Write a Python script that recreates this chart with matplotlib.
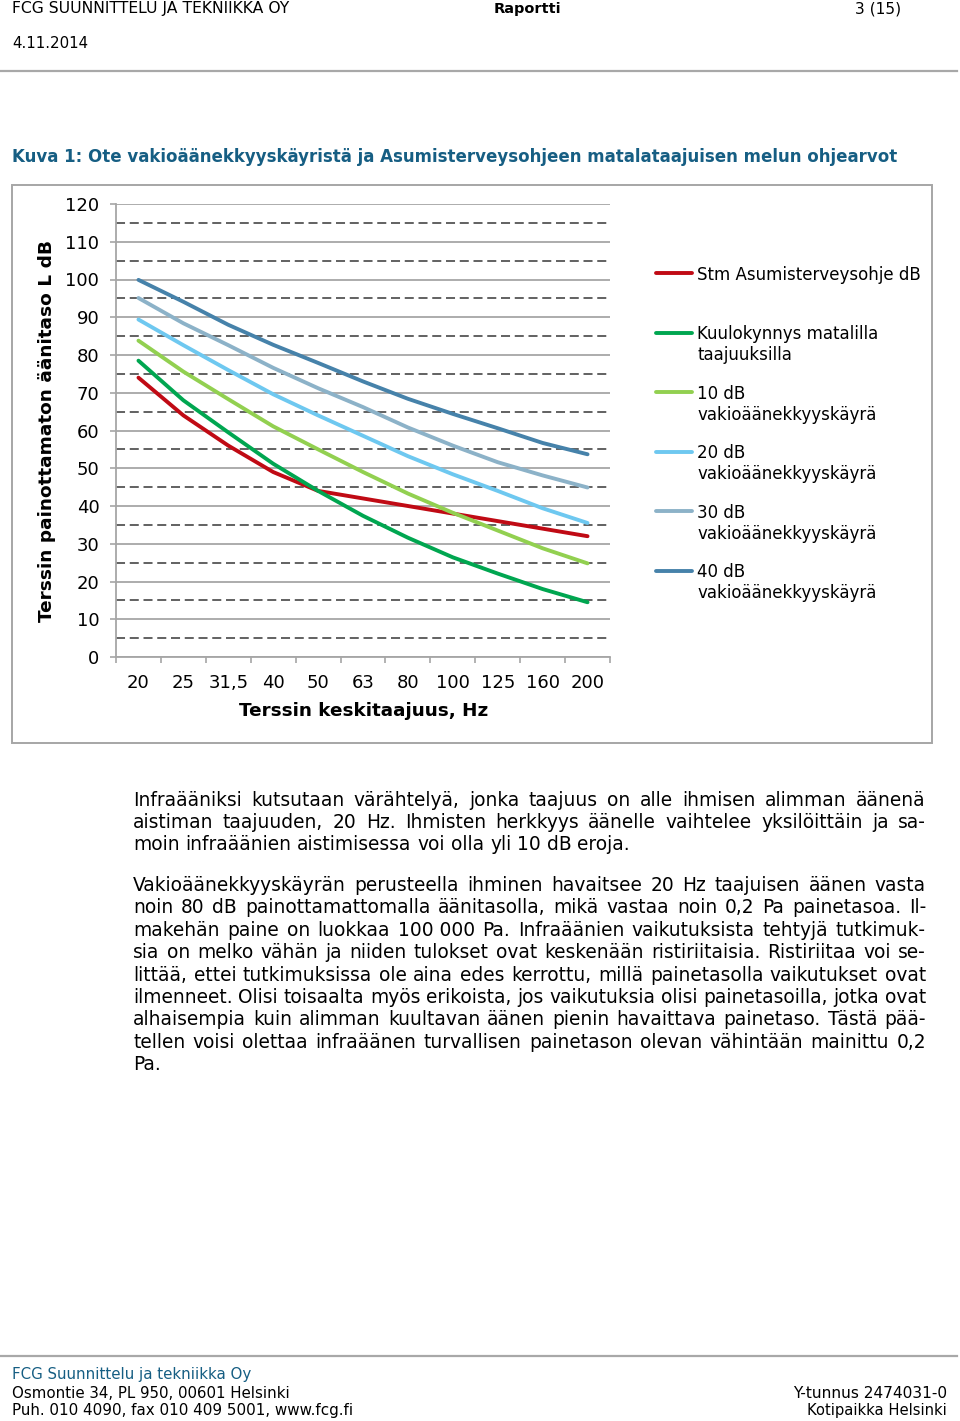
import matplotlib
matplotlib.use("Agg")
import matplotlib.pyplot as plt
from matplotlib.lines import Line2D
from matplotlib.patches import Rectangle
from matplotlib.ticker import FixedLocator

plt.rcParams['font.family'] = ['DejaVu Sans']
plt.rcParams['lines.scale_dashes'] = False

W, H = 960, 1421

# ---------------- data ----------------
freq_labels = ["20", "25", "31,5", "40", "50", "63", "80", "100", "125", "160", "200"]
stm_guideline = [74, 64, 56, 49, 44, 42, 40, 38, 36, 34, 32]
hearing_threshold = [78.5, 68.0, 59.5, 51.2, 44.0, 37.4, 31.6, 26.4, 22.1, 18.0, 14.5]
phon10 = [83.8, 75.6, 68.3, 61.1, 55.0, 49.0, 43.3, 38.2, 33.5, 28.8, 24.8]
phon20 = [89.4, 82.6, 76.0, 69.6, 64.0, 58.6, 53.2, 48.4, 44.0, 39.4, 35.5]
phon30 = [95.1, 88.4, 82.6, 76.6, 71.2, 66.2, 60.8, 56.0, 51.6, 48.1, 44.9]
phon40 = [99.9, 94.1, 88.0, 82.7, 77.9, 73.0, 68.4, 64.4, 60.6, 56.7, 53.7]

series_values = [stm_guideline, hearing_threshold, phon10, phon20, phon30, phon40]
series_labels = ["Stm Asumisterveysohje dB\n",
                 "Kuulokynnys matalilla\ntaajuuksilla",
                 "10 dB\nvakioäänekkyyskäyrä",
                 "20 dB\nvakioäänekkyyskäyrä",
                 "30 dB\nvakioäänekkyyskäyrä",
                 "40 dB\nvakioäänekkyyskäyrä"]
series_colors = ["#C00A14", "#00A650", "#92D050", "#6EC8F0", "#8CB2C8", "#4682AA"]

y_major = list(range(0, 121, 10))
y_minor = list(range(5, 120, 10))

para1 = ["Infraääniksi kutsutaan värähtelyä, jonka taajuus on alle ihmisen alimman äänenä",
         "aistiman taajuuden, 20 Hz. Ihmisten herkkyys äänelle vaihtelee yksilöittäin ja sa-",
         "moin infraäänien aistimisessa voi olla yli 10 dB eroja."]
para2 = ["Vakioäänekkyyskäyrän perusteella ihminen havaitsee 20 Hz taajuisen äänen vasta",
         "noin 80 dB painottamattomalla äänitasolla, mikä vastaa noin 0,2 Pa painetasoa. Il-",
         "makehän paine on luokkaa 100\u00a0000 Pa. Infraäänien vaikutuksista tehtyjä tutkimuk-",
         "sia on melko vähän ja niiden tulokset ovat keskenään ristiriitaisia. Ristiriitaa voi se-",
         "littää, ettei tutkimuksissa ole aina edes kerrottu, millä painetasolla vaikutukset ovat",
         "ilmenneet. Olisi toisaalta myös erikoista, jos vaikutuksia olisi painetasoilla, jotka ovat",
         "alhaisempia kuin alimman kuultavan äänen pienin havaittava painetaso. Tästä pää-",
         "tellen voisi olettaa infraäänen turvallisen painetason olevan vähintään mainittu 0,2",
         "Pa."]

# ---------------- figure ----------------
fig = plt.figure(figsize=(W / 100, H / 100), dpi=100)
fig.patch.set_facecolor("white")
renderer = fig.canvas.get_renderer()


def fx(px):
    return px / W


def fy(py):
    return 1 - py / H


def text_width(s, fs, **kw):
    t = fig.text(0, 0, s, fontsize=fs, **kw)
    w = t.get_window_extent(renderer).width
    t.remove()
    return w


def fit_text(x, y, s, width, fs_guess=11, **kw):
    t = fig.text(fx(x), fy(y), s, fontsize=fs_guess, **kw)
    w = t.get_window_extent(renderer).width
    t.set_fontsize(fs_guess * width / w)
    return t


# header
fit_text(12, 9, "FCG SUUNNITTELU JA TEKNIIKKA OY", 279, va="center", ha="left")
fit_text(561, 9, "Raportti", 67, va="center", ha="right", fontweight="bold")
fit_text(901, 9, "3 (15)", 46, va="center", ha="right")
fit_text(12, 44, "4.11.2014", 76, va="center", ha="left")
fig.add_artist(Line2D([0, fx(957)], [fy(71), fy(71)], color="#A8A8A8", lw=1.6))

caption_color = "#165E83"
fit_text(12, 157, "Kuva 1: Ote vakioäänekkyyskäyristä ja Asumisterveysohjeen matalataajuisen melun ohjearvot",
         885, va="center", ha="left", fontweight="bold", color=caption_color)

# chart border
fig.add_artist(Rectangle((fx(12), fy(743)), fx(920), 558 / H, transform=fig.transFigure,
                         fill=False, edgecolor="#A6A6A6", lw=1.4))

# axes
ax = fig.add_axes([fx(116), fy(657), fx(610) - fx(116), fy(204) - fy(657)])
x = list(range(len(freq_labels)))
for vals, lab, col in zip(series_values, series_labels, series_colors):
    ax.plot(x, vals, color=col, lw=2.8, label=lab, solid_joinstyle="round",
            solid_capstyle="round", zorder=3)

ax.set_xlim(-0.5, len(freq_labels) - 0.5)
ax.set_ylim(0, 120)
ax.set_yticks(y_major)
ax.yaxis.set_minor_locator(FixedLocator(y_minor))
ax.set_xticks(x)
ax.set_xticklabels(freq_labels)
ax.xaxis.set_minor_locator(FixedLocator([i - 0.5 for i in range(len(freq_labels) + 1)]))

ax.grid(axis="y", which="major", color="#A6A6A6", lw=1.3, zorder=1)
ax.grid(axis="y", which="minor", color="#555555", lw=1.3, linestyle=(0, (6.5, 3.4)), zorder=1)
ax.set_axisbelow(True)

for s in ["top", "right"]:
    ax.spines[s].set_visible(False)
for s in ["left", "bottom"]:
    ax.spines[s].set_color("#A6A6A6")
    ax.spines[s].set_linewidth(1.3)

ax.tick_params(axis="y", which="major", length=4.5, width=1.2, color="#A6A6A6",
               labelsize=13, pad=7.5, direction="out")
ax.tick_params(axis="y", which="minor", length=0)
ax.tick_params(axis="x", which="major", length=0, labelsize=13, pad=12.5)
ax.tick_params(axis="x", which="minor", length=4.5, width=1.2, color="#A6A6A6", direction="out")

ax.set_ylabel("Terssin painottamaton äänitaso L dB", fontsize=13.3, fontweight="bold", va="center")
ax.yaxis.set_label_coords((47 - 116) / 494, 0.5)
ax.set_xlabel("Terssin keskitaajuus, Hz", fontsize=13.2, fontweight="bold", va="center")
ax.xaxis.set_label_coords((364 - 116) / 494, (657 - 711) / 453)

leg = ax.legend(loc="upper left", bbox_to_anchor=(fx(656), fy(266)),
                bbox_transform=fig.transFigure, frameon=False, fontsize=12,
                borderpad=0, borderaxespad=0, handlelength=2.16, handleheight=1.3,
                handletextpad=0.3, labelspacing=1.24)
for line in leg.get_lines():
    line.set_linewidth(2.8)
try:
    for col in leg._legend_handle_box.get_children():
        for row in col.get_children():
            row.align = "top"
except Exception:
    pass

# ---------------- body text ----------------
x_left, x_right = 133, 926
body_fs = 12 * 495 / text_width(para1[-1], 12)
space_w = text_width("a a", body_fs) - 2 * text_width("a", body_fs)


def put_line(line, y, justify):
    words = line.split(" ")
    widths = [text_width(w, body_fs) for w in words]
    if justify and len(words) > 1:
        gap = (x_right - x_left - sum(widths)) / (len(words) - 1)
    else:
        gap = space_w
    xx = x_left
    for w, wd in zip(words, widths):
        fig.text(fx(xx), fy(y), w, fontsize=body_fs, va="baseline", ha="left")
        xx += wd + gap


def body(lines, y0, dy):
    for i, ln in enumerate(lines):
        put_line(ln, y0 + i * dy, justify=(i < len(lines) - 1))


body(para1, 806, 22.2)
body(para2, 891, 22.4)

# ---------------- footer ----------------
fig.add_artist(Line2D([0, fx(957)], [fy(1356), fy(1356)], color="#A8A8A8", lw=1.6))
fit_text(12, 1375, "FCG Suunnittelu ja tekniikka Oy", 238, va="center", ha="left", color=caption_color)
fit_text(12, 1393, "Osmontie 34, PL 950, 00601 Helsinki", 277, va="center", ha="left")
fit_text(12, 1411, "Puh. 010 4090, fax 010 409 5001, www.fcg.fi", 341, va="center", ha="left")
fit_text(947, 1393, "Y-tunnus 2474031-0", 154, va="center", ha="right")
fit_text(947, 1411, "Kotipaikka Helsinki", 139, va="center", ha="right")

fig.savefig("out.png", dpi=100, facecolor="white")
